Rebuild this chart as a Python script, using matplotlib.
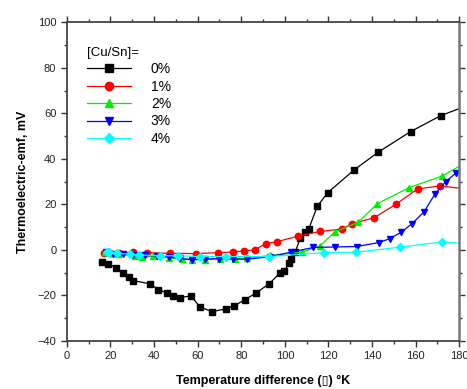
import matplotlib
matplotlib.use("Agg")
import matplotlib.pyplot as plt
from matplotlib.ticker import MultipleLocator

plt.rcParams['font.family'] = ['Liberation Sans', 'DejaVu Sans']

# [Cu/Sn] = 0%
x0 = [16.3, 19.1, 22.6, 25.7, 28.4, 30.5, 38.3, 42.0, 46.1, 48.9, 52.1, 57.0, 61.0, 66.6, 72.9,
      76.8, 81.8, 86.6, 92.8, 97.8, 99.8, 101.9, 103.0, 104.8, 107.0, 109.4, 110.9, 114.9, 119.7,
      131.7, 142.9, 157.7, 171.5, 188.0]
y0 = [-5.1, -6.0, -7.9, -10.0, -12.0, -13.5, -14.9, -17.4, -19.0, -20.1, -20.9, -20.2, -25.0, -27.1, -25.9,
      -24.5, -21.8, -19.0, -14.9, -10.1, -9.1, -5.9, -3.8, -0.9, 5.1, 7.9, 9.1, 19.2, 25.2,
      35.1, 43.0, 52.0, 59.0, 65.0]
# 1%
x1 = [17, 20, 24, 30.3, 36.7, 47.4, 59.1, 69.4, 76.4, 81.4, 86.2, 91.2, 96.3, 106.2, 116.1,
      126.1, 131.0, 140.9, 151.0, 160.9, 171.0, 186.0]
y1 = [-1.5, -1.5, -1.4, -1.0, -1.2, -1.5, -1.6, -1.2, -0.9, -0.4, 0.0, 2.8, 3.6, 6.1, 8.1,
      9.2, 11.6, 14.1, 20.1, 26.8, 28.1, 26.5]
# 2%
x2 = [17.3, 20, 23.7, 31.3, 34.4, 39.7, 46.8, 52.8, 57.6, 63.6, 70.3, 77, 82.8, 93.2, 107.7,
      115.9, 122.8, 133.7, 142.4, 157.1, 172.2, 186.0]
y2 = [-1.0, -1.4, -1.8, -2.6, -2.9, -2.7, -3.5, -4.0, -4.3, -4.3, -4.0, -3.8, -3.7, -2.4, -1.0,
      1.6, 7.8, 12.2, 20.3, 27.4, 32.5, 40.0]
# 3%
x3 = [18, 21.4, 26, 30.5, 36, 41.3, 47, 52, 57.2, 63.6, 70, 76, 82.7, 93, 102.8, 113.1, 122.9,
      133, 143, 148, 153.2, 158.4, 163.8, 168.8, 173.8, 178.6]
y3 = [-1.0, -1.8, -2.0, -2.2, -2.4, -2.6, -3.0, -3.7, -4.3, -4.0, -3.8, -4.0, -4.1, -3.0, -1.0, 1.1, 1.3,
      1.5, 3.2, 4.9, 7.7, 11.6, 16.7, 24.5, 30.0, 33.9]
# 4%
x4 = [18.3, 19.5, 22.9, 29.0, 32.9, 42.8, 51.2, 61.1, 72.9, 92.9, 117.9, 132.6, 152.8, 172.1, 190.0]
y4 = [-1.0, -0.8, -1.5, -1.8, -2.2, -2.5, -2.6, -2.9, -2.9, -2.9, -1.2, -1.0, 1.2, 3.5, 2.3]

labels = ['0%', '1%', '2%', '3%', '4%']
colors = ['black', 'red', '#00ee00', 'blue', 'cyan']
markers = ['s', 'o', '^', 'v', 'D']
xs = [x0, x1, x2, x3, x4]
ys = [y0, y1, y2, y3, y4]

fig = plt.figure(figsize=(4.67, 3.89), dpi=100)
ax = fig.add_axes([0.143, 0.1234, 0.8405, 0.8193])

for x, y, c, m, lab in zip(xs, ys, colors, markers, labels):
    ms = 4.6 if m != 'D' else 4.2
    ax.plot(x, y, color=c, marker=m, markersize=ms, lw=0.9, label=lab,
            markeredgecolor=c, clip_on=True)

ax.set_xlim(0, 180)
ax.set_ylim(-40, 100)
ax.xaxis.set_major_locator(MultipleLocator(20))
ax.xaxis.set_minor_locator(MultipleLocator(10))
ax.yaxis.set_major_locator(MultipleLocator(20))
ax.yaxis.set_minor_locator(MultipleLocator(10))
ax.tick_params(which='both', direction='out', top=True, right=True, labelsize=8,
               colors='#333333', labelcolor='#222222')
ax.tick_params(which='major', length=4, width=1)
ax.tick_params(which='minor', length=2.5, width=1)
for side in ['top', 'right', 'bottom', 'left']:
    ax.spines[side].set_linewidth(1.3)
    ax.spines[side].set_color('#444444')
ax.spines['right'].set_linewidth(1.8)
ax.spines['right'].set_color('#777777')

ax.set_xlabel('Temperature difference (\u25AF) \u00b0K', fontsize=9, fontweight='bold', labelpad=10)
ax.set_ylabel('Thermoelectric-emf, mV', fontsize=9, fontweight='bold', labelpad=6)

leg = ax.legend(title='[Cu/Sn]=', loc='upper left', bbox_to_anchor=(0.03, 0.95), frameon=False,
                fontsize=10, title_fontsize=9.5, handlelength=3.2, handletextpad=1.4,
                labelspacing=0.25, borderaxespad=0.2, markerscale=1.3)
leg._legend_box.align = 'left'

fig.savefig('out.png', dpi=100)
